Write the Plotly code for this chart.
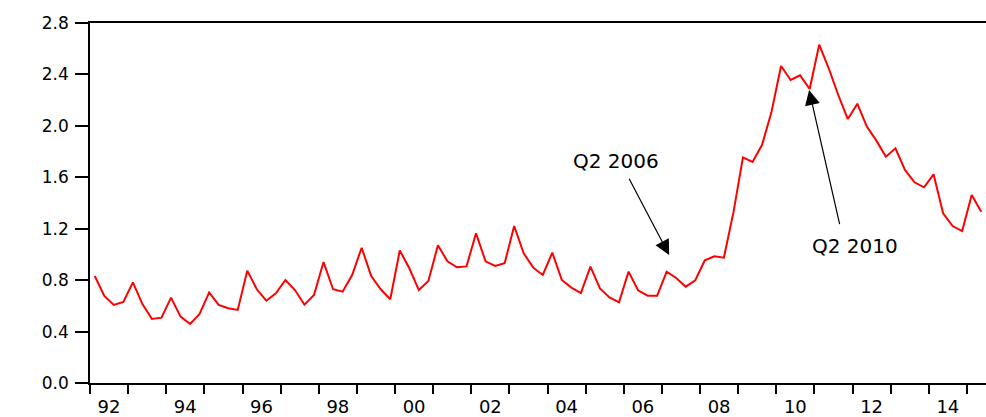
import plotly.graph_objects as go

# Quarterly series, 1992Q1 - 2015Q2
years = list(range(1992, 2016))
values = [
    0.832, 0.677, 0.607, 0.630,   # 1992
    0.783, 0.614, 0.498, 0.508,   # 1993
    0.664, 0.516, 0.459, 0.537,   # 1994
    0.705, 0.607, 0.581, 0.568,   # 1995
    0.874, 0.729, 0.640, 0.697,   # 1996
    0.801, 0.723, 0.609, 0.684,   # 1997
    0.941, 0.729, 0.710, 0.840,   # 1998
    1.052, 0.832, 0.729, 0.651,   # 1999
    1.031, 0.892, 0.723, 0.793,   # 2000
    1.071, 0.946, 0.900, 0.907,   # 2001
    1.164, 0.946, 0.910, 0.931,   # 2002
    1.221, 1.009, 0.897, 0.840,   # 2003
    1.014, 0.801, 0.742, 0.700,   # 2004
    0.905, 0.736, 0.666, 0.627,   # 2005
    0.866, 0.721, 0.679, 0.679,   # 2006
    0.866, 0.817, 0.749, 0.799,   # 2007
    0.955, 0.985, 0.975, 1.325,   # 2008
    1.755, 1.719, 1.851, 2.110,   # 2009
    2.466, 2.357, 2.393, 2.287,   # 2010
    2.631, 2.448, 2.240, 2.053,   # 2011
    2.172, 1.994, 1.885, 1.760,   # 2012
    1.825, 1.657, 1.561, 1.522,   # 2013
    1.623, 1.320, 1.221, 1.182,   # 2014
    1.462, 1.332,                 # 2015
]

# quarter midpoints as fractional years
dates = [y + (q + 0.5) / 4 for y in years for q in range(4)][:len(values)]

label_years = list(range(1992, 2015, 2))
tick_pos = [y + 0.5 for y in label_years]
tick_text = [str(y)[2:] for y in label_years]

y_ticks = [0.0, 0.4, 0.8, 1.2, 1.6, 2.0, 2.4, 2.8]

fig = go.Figure()

fig.add_trace(go.Scatter(
    x=dates,
    y=values,
    mode='lines',
    line=dict(color='#ff0000', width=2),
    showlegend=False
))

# arrows (tip at x/y, tail at ax/ay in data coords)
arrows = [
    dict(x=2007.19, y=0.996, ax=2006.12, ay=1.600),
    dict(x=2010.86, y=2.279, ax=2011.67, ay=1.224),
]
for a in arrows:
    fig.add_annotation(
        x=a['x'], y=a['y'], ax=a['ax'], ay=a['ay'],
        xref='x', yref='y', axref='x', ayref='y',
        text='', showarrow=True,
        arrowhead=2, arrowsize=2.5, arrowwidth=1.2, arrowcolor='black'
    )

labels = [
    dict(x=2005.80, y=1.727, text='Q2 2006'),
    dict(x=2012.07, y=1.062, text='Q2 2010'),
]
for lb in labels:
    fig.add_annotation(
        x=lb['x'], y=lb['y'], xref='x', yref='y',
        text=lb['text'], showarrow=False,
        font=dict(family='DejaVu Sans', size=20, color='black')
    )

fig.update_layout(
    width=986,
    height=417,
    margin=dict(l=90, r=0, t=23, b=34, autoexpand=False),
    plot_bgcolor='white',
    paper_bgcolor='white',
    font=dict(family='DejaVu Sans', color='black'),
)

fig.update_xaxes(
    range=[1992, 2015.5],
    automargin=False,
    tickvals=tick_pos,
    ticktext=tick_text,
    ticks='outside',
    ticklen=7,
    tickcolor='rgba(0,0,0,0)',
    tickfont=dict(size=18),
    ticklabelstandoff=0,
    minor=dict(tick0=1992, dtick=1, ticks='outside', ticklen=9,
               tickwidth=1.5, tickcolor='black'),
    showgrid=False,
    zeroline=False,
    showline=True,
    linecolor='black',
    linewidth=1.5,
    mirror=True,
)

fig.update_yaxes(
    range=[0, 2.8],
    automargin=False,
    tickvals=y_ticks,
    tickformat='.1f',
    ticks='outside',
    ticklen=13,
    tickwidth=1.5,
    tickcolor='black',
    tickfont=dict(size=17),
    ticklabelstandoff=3,
    showgrid=False,
    zeroline=False,
    showline=True,
    linecolor='black',
    linewidth=1.5,
)

# drop the default 8px body margin so the figure fills the window
fig.write_html("out.html",
               config={'displayModeBar': False},
               post_script="document.body.style.margin='0';document.body.style.overflow='hidden';")
